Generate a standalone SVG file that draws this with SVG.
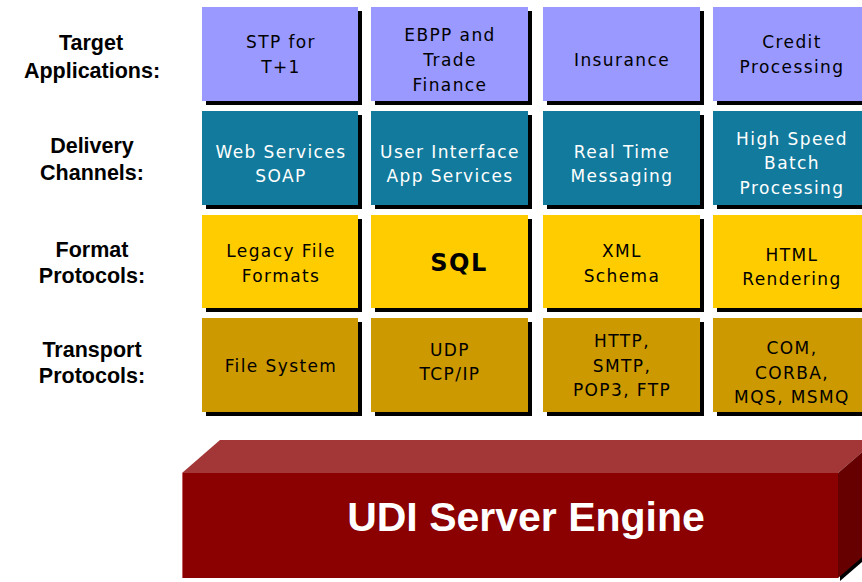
<svg xmlns="http://www.w3.org/2000/svg" width="862" height="582" viewBox="0 0 862 582">
<style>
.lbl{font-family:"Liberation Sans",Arial,sans-serif;font-weight:bold;font-size:21.5px;fill:#000;text-anchor:middle}
.t{font-family:"DejaVu Sans",Verdana,sans-serif;font-size:17px;letter-spacing:1.4px;text-anchor:middle;fill:#000}
.w{fill:#fff}
.sh{fill:#000}
.p{fill:#9999FF}
.c{fill:#127A9C}
.y{fill:#FFCC00}
.g{fill:#CC9900}
</style>
<rect width="862" height="582" fill="#fff"/>
<g id="row-labels">
<text class="lbl" x="91" y="50">Target</text><text class="lbl" x="92" y="78">Applications:</text>
<text class="lbl" x="92" y="153">Delivery</text><text class="lbl" x="92" y="180">Channels:</text>
<text class="lbl" x="92" y="257">Format</text><text class="lbl" x="92" y="283">Protocols:</text>
<text class="lbl" x="92" y="357">Transport</text><text class="lbl" x="92" y="383">Protocols:</text>
</g>
<!-- Row 1 -->
<g id="stp"><rect class="sh" x="206" y="11" width="156" height="94"/><rect class="p" x="202" y="7" width="156" height="94"/><text class="t" x="281" y="48">STP for</text><text class="t" x="281" y="73">T+1</text></g>
<g id="ebpp"><rect class="sh" x="375" y="11" width="157" height="94"/><rect class="p" x="371" y="7" width="157" height="94"/><text class="t" x="450" y="41">EBPP and</text><text class="t" x="450" y="66">Trade</text><text class="t" x="450" y="91">Finance</text></g>
<g id="insurance"><rect class="sh" x="547" y="11" width="157" height="94"/><rect class="p" x="543" y="7" width="157" height="94"/><text class="t" x="622" y="66">Insurance</text></g>
<g id="credit"><rect class="sh" x="717" y="11" width="157" height="94"/><rect class="p" x="713" y="7" width="157" height="94"/><text class="t" x="792" y="48">Credit</text><text class="t" x="792" y="73">Processing</text></g>
<!-- Row 2 -->
<g id="webservices"><rect class="sh" x="206" y="115" width="156" height="94"/><rect class="c" x="202" y="111" width="156" height="94"/><text class="t w" x="281" y="158">Web Services</text><text class="t w" x="281" y="182">SOAP</text></g>
<g id="ui"><rect class="sh" x="375" y="115" width="157" height="94"/><rect class="c" x="371" y="111" width="157" height="94"/><text class="t w" x="450" y="158">User Interface</text><text class="t w" x="450" y="182">App Services</text></g>
<g id="realtime"><rect class="sh" x="547" y="115" width="157" height="94"/><rect class="c" x="543" y="111" width="157" height="94"/><text class="t w" x="622" y="158">Real Time</text><text class="t w" x="622" y="182">Messaging</text></g>
<g id="batch"><rect class="sh" x="717" y="115" width="157" height="94"/><rect class="c" x="713" y="111" width="157" height="94"/><text class="t w" x="792" y="145">High Speed</text><text class="t w" x="792" y="169">Batch</text><text class="t w" x="792" y="194">Processing</text></g>
<!-- Row 3 -->
<g id="legacy"><rect class="sh" x="206" y="219" width="156" height="93"/><rect class="y" x="202" y="215" width="156" height="93"/><text class="t" x="281" y="257">Legacy File</text><text class="t" x="281" y="282">Formats</text></g>
<g id="sql"><rect class="sh" x="375" y="219" width="157" height="93"/><rect class="y" x="371" y="215" width="157" height="93"/><text x="459" y="271" style="font-family:'DejaVu Sans',Verdana,sans-serif;font-weight:bold;font-size:24px;letter-spacing:1.5px;text-anchor:middle;fill:#000">SQL</text></g>
<g id="xml"><rect class="sh" x="547" y="219" width="157" height="93"/><rect class="y" x="543" y="215" width="157" height="93"/><text class="t" x="622" y="257">XML</text><text class="t" x="622" y="282">Schema</text></g>
<g id="html"><rect class="sh" x="717" y="219" width="157" height="93"/><rect class="y" x="713" y="215" width="157" height="93"/><text class="t" x="792" y="261">HTML</text><text class="t" x="792" y="285">Rendering</text></g>
<!-- Row 4 -->
<g id="filesystem"><rect class="sh" x="206" y="322" width="156" height="94"/><rect class="g" x="202" y="318" width="156" height="94"/><text class="t" x="281" y="372">File System</text></g>
<g id="udp"><rect class="sh" x="375" y="322" width="157" height="94"/><rect class="g" x="371" y="318" width="157" height="94"/><text class="t" x="450" y="356">UDP</text><text class="t" x="450" y="380">TCP/IP</text></g>
<g id="http"><rect class="sh" x="547" y="322" width="157" height="94"/><rect class="g" x="543" y="318" width="157" height="94"/><text class="t" x="622" y="347">HTTP,</text><text class="t" x="622" y="372">SMTP,</text><text class="t" x="622" y="396">POP3, FTP</text></g>
<g id="com"><rect class="sh" x="717" y="322" width="157" height="94"/><rect class="g" x="713" y="318" width="157" height="94"/><text class="t" x="792" y="354">COM,</text><text class="t" x="792" y="379">CORBA,</text><text class="t" x="792" y="403">MQS, MSMQ</text></g>
<!-- Engine slab -->
<g id="engine">
<polygon points="840,581 878,548 878,445 840,478" fill="#000"/>
<polygon points="182,473 220,440 876,440 838,473" fill="#A33636"/>
<polygon points="838,473 876,440 876,545 838,578" fill="#660000"/>
<rect x="182" y="473" width="656" height="105" fill="#8B0000"/>
<line x1="182.5" y1="473" x2="182.5" y2="578" stroke="#C06060" stroke-width="1"/>
<text x="526" y="531" style="font-family:'Liberation Sans',Arial,sans-serif;font-weight:bold;font-size:41px;fill:#fff;text-anchor:middle">UDI Server Engine</text>
</g>
</svg>
